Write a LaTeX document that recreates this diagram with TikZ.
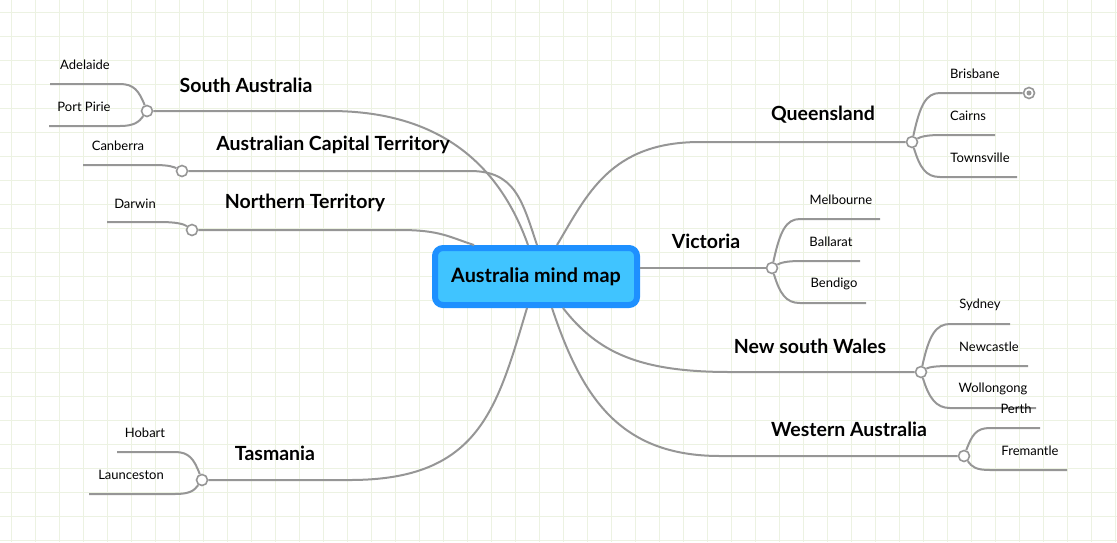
\documentclass[tikz,border=0pt]{standalone}
\usepackage{fontspec}
\setmainfont{Lato}
\usetikzlibrary{calc}
\definecolor{linegray}{RGB}{150,150,150}
\definecolor{gridgreen}{RGB}{236,242,226}
\definecolor{mapfill}{RGB}{64,196,255}
\definecolor{mapedge}{RGB}{30,144,255}

\begin{document}
\begin{tikzpicture}[x=1pt, y=-1pt,
  branch/.style={draw=linegray, line width=2pt},
  knob/.style={circle, draw=linegray, fill=white, line width=1.6pt, minimum size=11pt, inner sep=0pt},
  statelbl/.style={font=\bfseries\fontsize{19.5}{22}\selectfont, inner sep=0pt},
  city/.style={font=\fontsize{13}{15}\selectfont, inner sep=0pt}]
\useasboundingbox (0,0) rectangle (1117,542);
% grid
\foreach \n in {0,...,46} {
  \draw[gridgreen, line width=1pt] (11.5+24*\n,0) -- (11.5+24*\n,542);
}
\foreach \n in {0,...,22} {
  \draw[gridgreen, line width=1pt] (0,12+24*\n) -- (1117,12+24*\n);
}
% centre
\node (map) [draw=mapedge, fill=mapfill, line width=6pt, rounded corners=8pt,
  minimum width=202pt, minimum height=57pt,
  font=\bfseries\fontsize{19.8}{22}\selectfont] at (536,276.5) {Australia mind map};
% knobs
\node (sa) [knob] at (147,111) {};
\node (act) [knob] at (182,171) {};
\node (nt) [knob] at (192,230) {};
\node (tas) [knob] at (202,480) {};
\node (qld) [knob] at (912,142) {};
\node (vic) [knob] at (772,268) {};
\node (nsw) [knob] at (921,372) {};
\node (wa) [knob] at (964,456) {};
% main branches
\draw[branch] ($(map.north)+(-8,0)$) .. controls +(-25,-70) and +(120,0) .. (330,111) -- (sa);
\draw[branch] ($(map.north)+(1,0)$) .. controls +(-15,-45) and +(45,0) .. (470,171) -- (act);
\draw[branch] ($(map.north west)+(42,0)$) .. controls +(-25,-8) and +(40,0) .. (400,230) -- (nt);
\draw[branch] ($(map.south)+(-9,0)$) .. controls +(-30,100) and +(130,0) .. (350,480) -- (tas);
\draw[branch] ($(map.north)+(21,0)$) .. controls +(30,-50) and +(-90,0) .. (700,142) -- (qld);
\draw[branch] ($(map.east)+(0,-8.5)$) -- (vic);
\draw[branch] ($(map.south)+(27,0)$) .. controls +(35,45) and +(-90,0) .. (730,372) -- (nsw);
\draw[branch] ($(map.south)+(16,0)$) .. controls +(30,90) and +(-100,0) .. (720,456) -- (wa);
% state labels
\node (saLbl) [statelbl] at (246,85) {South Australia};
\node (actLbl) [statelbl] at (333,145) {Australian Capital Territory};
\node (ntLbl) [statelbl] at (305,203) {Northern Territory};
\node (tasLbl) [statelbl] at (275,453) {Tasmania};
\node (qldLbl) [statelbl] at (823,115) {Queensland};
\node (vicLbl) [statelbl] at (706,241) {Victoria};
\node (nswLbl) [statelbl] at (810,346) {New south Wales};
\node (waLbl) [statelbl] at (849,429) {Western Australia};
% free ends
\coordinate (adelE) at (50,84);
\coordinate (pirieE) at (49,126);
\coordinate (canbE) at (83,165);
\coordinate (darwE) at (107,222);
\coordinate (hobE) at (117,452);
\coordinate (launE) at (89,494);
\coordinate (cairE) at (995,135);
\coordinate (townE) at (1017,177);
\coordinate (melbE) at (880,219);
\coordinate (ballE) at (860,261);
\coordinate (bendE) at (866,303);
\coordinate (sydE) at (1010,324);
\coordinate (newcE) at (1028,366);
\coordinate (wollE) at (1036,408);
\coordinate (perthE) at (1040,428);
\coordinate (fremE) at (1067,470);
\node (brisdot) [knob] at (1029,93) {};
\fill[linegray] (brisdot) circle (2.5);
% leaves, left
\draw[branch] (sa) .. controls +(-8,-20) and +(14,0) .. (120,84) -- (adelE);
\draw[branch] (sa) .. controls +(-8,11) and +(14,0) .. (120,126) -- (pirieE);
\draw[branch] (act) .. controls +(-8,-4) and +(14,0) .. (155,165) -- (canbE);
\draw[branch] (nt) .. controls +(-8,-6) and +(16,0) .. (160,222) -- (darwE);
\draw[branch] (tas) .. controls +(-8,-21) and +(14,0) .. (175,452) -- (hobE);
\draw[branch] (tas) .. controls +(-8,11) and +(14,0) .. (175,494) -- (launE);
% leaves, right
\draw[branch] (qld) .. controls +(8,-37) and +(-14,0) .. (940,93) -- (brisdot);
\draw[branch] (qld) .. controls +(8,-5) and +(-14,0) .. (940,135) -- (cairE);
\draw[branch] (qld) .. controls +(8,26) and +(-14,0) .. (940,177) -- (townE);
\draw[branch] (vic) .. controls +(8,-37) and +(-14,0) .. (800,219) -- (melbE);
\draw[branch] (vic) .. controls +(8,-5) and +(-14,0) .. (800,261) -- (ballE);
\draw[branch] (vic) .. controls +(8,26) and +(-14,0) .. (800,303) -- (bendE);
\draw[branch] (nsw) .. controls +(8,-37) and +(-14,0) .. (950,324) -- (sydE);
\draw[branch] (nsw) .. controls +(8,-5) and +(-14,0) .. (950,366) -- (newcE);
\draw[branch] (nsw) .. controls +(8,26) and +(-14,0) .. (950,408) -- (wollE);
\draw[branch] (wa) .. controls +(8,-21) and +(-14,0) .. (990,428) -- (perthE);
\draw[branch] (wa) .. controls +(8,11) and +(-14,0) .. (990,470) -- (fremE);
% city labels
\node (adel) [city] at (85,65) {Adelaide};
\node (pirie) [city] at (84,107) {Port Pirie};
\node (canb) [city] at (118,146) {Canberra};
\node (darw) [city] at (135,204) {Darwin};
\node (hob) [city] at (145,433) {Hobart};
\node (laun) [city] at (131,475) {Launceston};
\node (bris) [city] at (975,74) {Brisbane};
\node (cair) [city] at (968,116) {Cairns};
\node (town) [city] at (980,158) {Townsville};
\node (melb) [city] at (841,200) {Melbourne};
\node (ball) [city] at (831,242) {Ballarat};
\node (bend) [city] at (834,284) {Bendigo};
\node (syd) [city] at (980,305) {Sydney};
\node (newc) [city] at (989,347) {Newcastle};
\node (woll) [city] at (993,389) {Wollongong};
\node (perth) [city] at (1016,409) {Perth};
\node (frem) [city] at (1030,451) {Fremantle};
\end{tikzpicture}
\end{document}
